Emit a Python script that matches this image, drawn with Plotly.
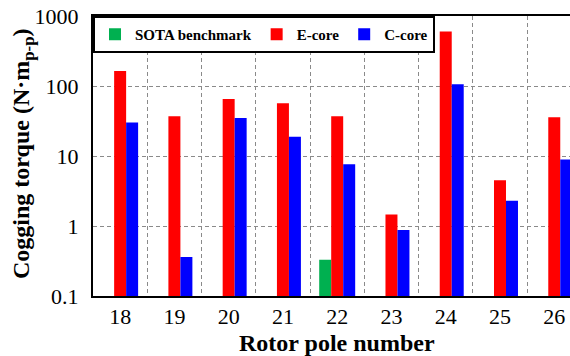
import plotly.graph_objects as go

# Rotor pole numbers (categories) and peak-to-peak cogging torque values
poles = ["18", "19", "20", "21", "22", "23", "24", "25", "26"]
sota = [None, None, None, None, 0.33, None, None, None, None]
e_core = [164, 37, 65, 56.5, 37, 1.46, 600, 4.5, 35.7]
c_core = [30, 0.36, 35, 18.8, 7.6, 0.88, 106, 2.3, 8.9]
y_ticks = [0.1, 1, 10, 100, 1000]
y_tick_text = ["0.1", "1", "10", "100", "1000"]

SERIF = "Liberation Serif"

fig = go.Figure()
fig.add_trace(go.Bar(x=poles, y=sota, name="<b>SOTA benchmark</b>", marker_color="#00B050"))
fig.add_trace(go.Bar(x=poles, y=e_core, name="<b>E-core</b>", marker_color="#FF0000"))
fig.add_trace(go.Bar(x=poles, y=c_core, name="<b>C-core</b>", marker_color="#0000FF"))

fig.update_traces(marker_line_width=0)

fig.update_layout(
    width=570,
    height=356,
    margin=dict(l=93, r=0, t=16, b=60),
    paper_bgcolor="white",
    plot_bgcolor="white",
    barmode="group",
    bargap=0.337,
    bargroupgap=0,
    font=dict(family=SERIF, color="black"),
    legend=dict(
        orientation="h",
        x=0, y=1, xanchor="left", yanchor="top",
        bgcolor="white",
        bordercolor="black",
        borderwidth=2,
        font=dict(family=SERIF, size=15, color="black"),
        itemwidth=30,
        tracegroupgap=0,
    ),
    xaxis=dict(
        type="category",
        range=[-0.5, 8.29],
        tickson="boundaries",
        showgrid=True,
        gridcolor="#8a8a8a",
        gridwidth=1,
        griddash="4px,3px",
        showline=True,
        linecolor="black",
        linewidth=2,
        mirror=True,
        ticks="",
        tickfont=dict(family=SERIF, size=22, color="black"),
        zeroline=False,
    ),
    yaxis=dict(
        type="log",
        range=[-1, 3],
        tickvals=y_ticks,
        ticktext=y_tick_text,
        showgrid=True,
        gridcolor="#8a8a8a",
        gridwidth=1,
        griddash="4px,3px",
        showline=True,
        linecolor="black",
        linewidth=2,
        ticks="",
        ticklabelstandoff=8,
        tickfont=dict(family=SERIF, size=22, color="black"),
        zeroline=False,
    ),
)

# Axis titles
fig.add_annotation(
    text="<b>Rotor pole number</b>",
    xref="paper", yref="paper",
    x=(337 - 93) / 477, y=-(343 - 296) / 280,
    xanchor="center", yanchor="middle",
    showarrow=False,
    font=dict(family=SERIF, size=24, color="black"),
)
fig.add_annotation(
    text="<b>Cogging torque (N·m<sub>p-p</sub>)</b>",
    xref="paper", yref="paper",
    x=(23 - 93) / 477, y=(296 - 154) / 280,
    xanchor="center", yanchor="middle",
    textangle=-90,
    showarrow=False,
    font=dict(family=SERIF, size=24, color="black"),
)

fig.write_html("out.html")
